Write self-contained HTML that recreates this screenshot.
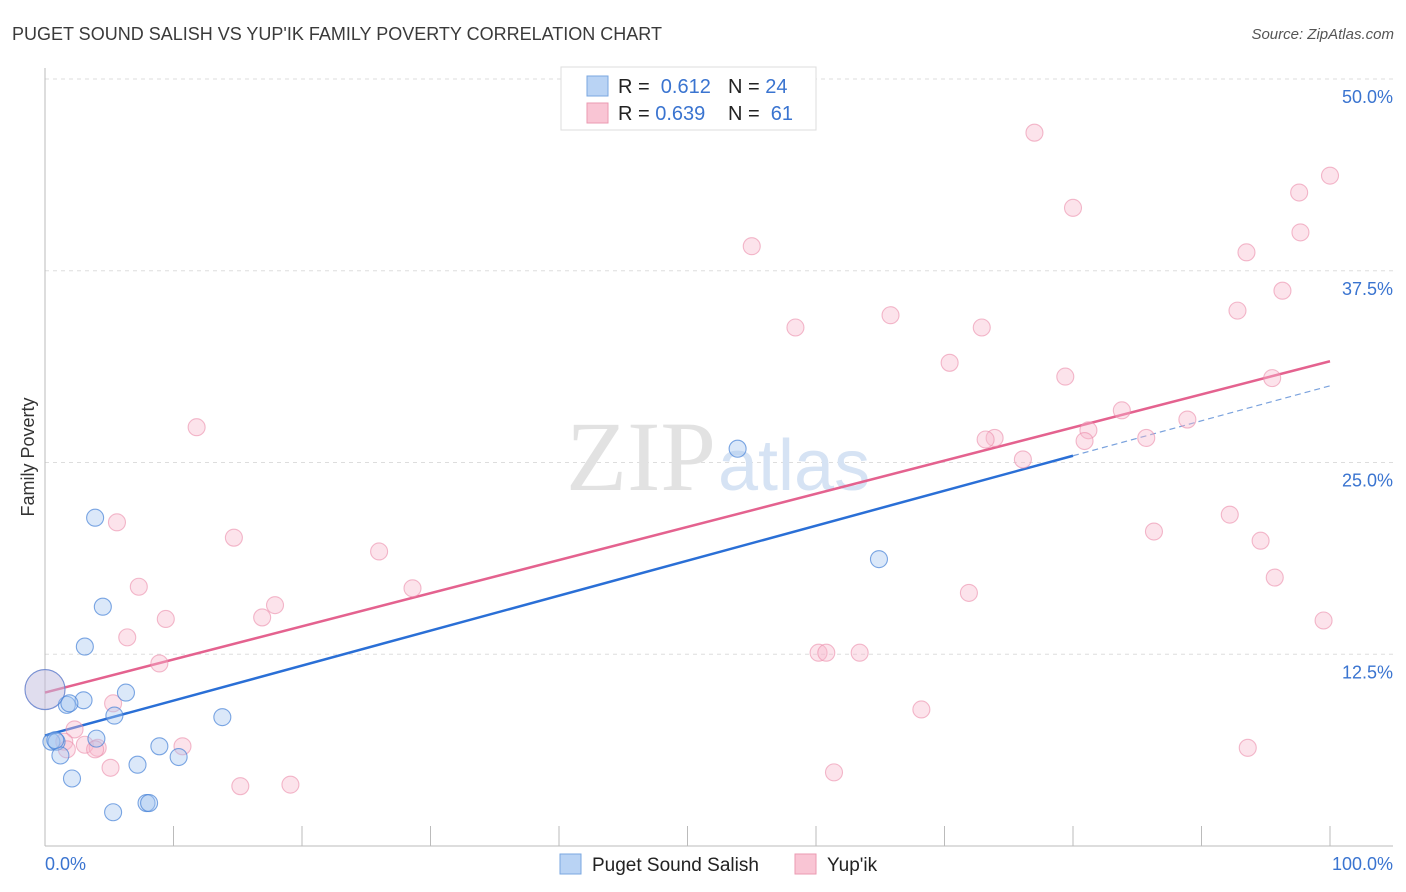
<!DOCTYPE html>
<html><head><meta charset="utf-8"><style>
body{margin:0;background:#fff;font-family:"Liberation Sans",sans-serif;}
svg{display:block}
</style></head><body>
<svg id="chart" width="1406" height="892">
<text x="12" y="40" font-size="18" fill="#3a3a3a">PUGET SOUND SALISH VS YUP'IK FAMILY POVERTY CORRELATION CHART</text>
<text x="1394" y="39" font-size="15" fill="#555" font-style="italic" text-anchor="end">Source: ZipAtlas.com</text>
<text x="34" y="457" font-size="18" fill="#333" text-anchor="middle" transform="rotate(-90 34 457)">Family Poverty</text>
<g id="grid"></g>
<text x="716" y="490" font-size="100" fill="#e2e2e2" text-anchor="end" font-family="Liberation Serif">ZIP</text>
<text x="718" y="490" font-size="72" fill="#d6e3f4">atlas</text>
<g id="lines"></g>
<g id="points"></g>
<g>
<rect x="561" y="67" width="255" height="63" fill="#fff" stroke="#ddd"/>
<rect x="587" y="76" width="21" height="20" fill="#b9d3f4" stroke="#7aa7e0"/>
<rect x="587" y="103" width="21" height="20" fill="#f9c5d4" stroke="#eb9ab2"/>
<text x="618" y="93" font-size="20" fill="#222">R = <tspan fill="#3a74d0">&#160;0.612</tspan><tspan x="728">N = </tspan><tspan fill="#3a74d0">24</tspan></text>
<text x="618" y="120" font-size="20" fill="#222">R = <tspan fill="#3a74d0">0.639</tspan><tspan x="728">N = </tspan><tspan fill="#3a74d0">&#160;61</tspan></text>
</g>
<g>
<rect x="560" y="854" width="21" height="20" fill="#b9d3f4" stroke="#7aa7e0"/>
<text x="592" y="871" font-size="19" fill="#222">Puget Sound Salish</text>
<rect x="795" y="854" width="21" height="20" fill="#f9c5d4" stroke="#eb9ab2"/>
<text x="827" y="871" font-size="19" fill="#222">Yup'ik</text>
</g>
</svg>
<script>
const yTicks=[12.5,25,37.5,50];
const yTickLabels=["12.5%","25.0%","37.5%","50.0%"];
const blueX=[3.9,4.5,3.1,6.3,3.0,1.7,5.4,13.8,4.0,0.5,0.9,8.9,1.2,10.4,7.2,2.1,7.9,8.1,5.3,53.9,64.9,0,1.9,0.8];
const blueY=[21.4,15.6,13.0,10.0,9.5,9.2,8.5,8.4,7.0,6.8,6.8,6.5,5.9,5.8,5.3,4.4,2.8,2.8,2.2,25.9,18.7,10.2,9.3,6.9];
const pinkX=[77.0,100,97.6,80.0,97.7,55.0,93.5,96.3,92.8,65.8,58.4,72.9,70.4,79.4,95.5,83.8,88.9,11.8,81.2,73.9,73.2,80.9,85.7,76.1,5.6,92.2,86.3,14.7,94.6,26.0,7.3,28.6,71.9,17.9,95.7,16.9,9.4,99.5,6.4,60.2,60.8,63.4,8.9,0,5.3,68.2,2.3,10.7,3.1,4.1,1.5,1.7,3.9,5.1,93.6,61.4,15.2,19.1];
const pinkY=[46.5,43.7,42.6,41.6,40.0,39.1,38.7,36.2,34.9,34.6,33.8,33.8,31.5,30.6,30.5,28.4,27.8,27.3,27.1,26.6,26.5,26.4,26.6,25.2,21.1,21.6,20.5,20.1,19.9,19.2,16.9,16.8,16.5,15.7,17.5,14.9,14.8,14.7,13.6,12.6,12.6,12.6,11.9,10.2,9.3,8.9,7.6,6.5,6.6,6.4,6.8,6.3,6.3,5.1,6.4,4.8,3.9,4.0];
const blueLine=[7.2,30.0];
const pinkLine=[10.0,31.6];
const X0=45,X1=1330,Y0=846,YS=767/50;
const sx=v=>X0+(X1-X0)*v/100, sy=v=>Y0-v*YS;
const NS="http://www.w3.org/2000/svg";
function mk(t,a,p){const e=document.createElementNS(NS,t);for(const k in a)e.setAttribute(k,a[k]);p.appendChild(e);return e;}
const grid=document.getElementById('grid');
yTicks.forEach((t,i)=>{
 const l=mk('line',{x1:45,x2:1393,y1:sy(t),y2:sy(t),stroke:'#ddd','stroke-dasharray':'4 4'},grid);
 
 
 const tx=mk('text',{x:1393,y:sy(t)+24,'font-size':18,fill:'#3a74d0','text-anchor':'end'},grid);
 tx.textContent=yTickLabels[i];
 
 
});
mk('line',{x1:45,x2:45,y1:68,y2:846,stroke:'#bbb'},grid);
mk('line',{x1:45,x2:1393,y1:846,y2:846,stroke:'#bbb'},grid);
for(let i=0;i<=10;i++){const t=mk('line',{x1:sx(i*10),x2:sx(i*10),y1:826,y2:846,stroke:'#bbb'},grid);
 
 }
const xl=mk('text',{x:45,y:870,'font-size':18,fill:'#3a74d0'},grid);xl.textContent='0.0%';


const xr=mk('text',{x:1393,y:870,'font-size':18,fill:'#3a74d0','text-anchor':'end'},grid);xr.textContent='100.0%';


const pts=document.getElementById('points');
function dot(x,y,r,fill,stroke,name){const c=mk('circle',{cx:sx(x),cy:sy(y),r:r,fill:fill,stroke:stroke,'stroke-width':1.1},pts);
 
 }
pinkX.forEach((x,i)=>dot(x,pinkY[i],x===0?20:8.5,x===0?'rgba(248,180,200,0.3)':'rgba(248,185,205,0.4)','rgba(235,140,170,0.6)','yupik-point'));
blueX.forEach((x,i)=>dot(x,blueY[i],x===0?20:8.5,x===0?'rgba(160,195,240,0.3)':'rgba(165,198,240,0.4)','rgba(70,130,215,0.7)','salish-point'));
const ln=document.getElementById('lines');
const bm=v=>blueLine[0]+(blueLine[1]-blueLine[0])*v/100;
const b1=mk('line',{x1:sx(0),y1:sy(bm(0)),x2:sx(80),y2:sy(bm(80)),stroke:'#2a6fd6','stroke-width':2.5},ln);


const b2=mk('line',{x1:sx(80),y1:sy(bm(80)),x2:sx(100),y2:sy(bm(100)),stroke:'#7aa2dd','stroke-width':1.2,'stroke-dasharray':'6 4'},ln);


const p1=mk('line',{x1:sx(0),y1:sy(pinkLine[0]),x2:sx(100),y2:sy(pinkLine[1]),stroke:'#e4628f','stroke-width':2.5},ln);


</script>
</body></html>
